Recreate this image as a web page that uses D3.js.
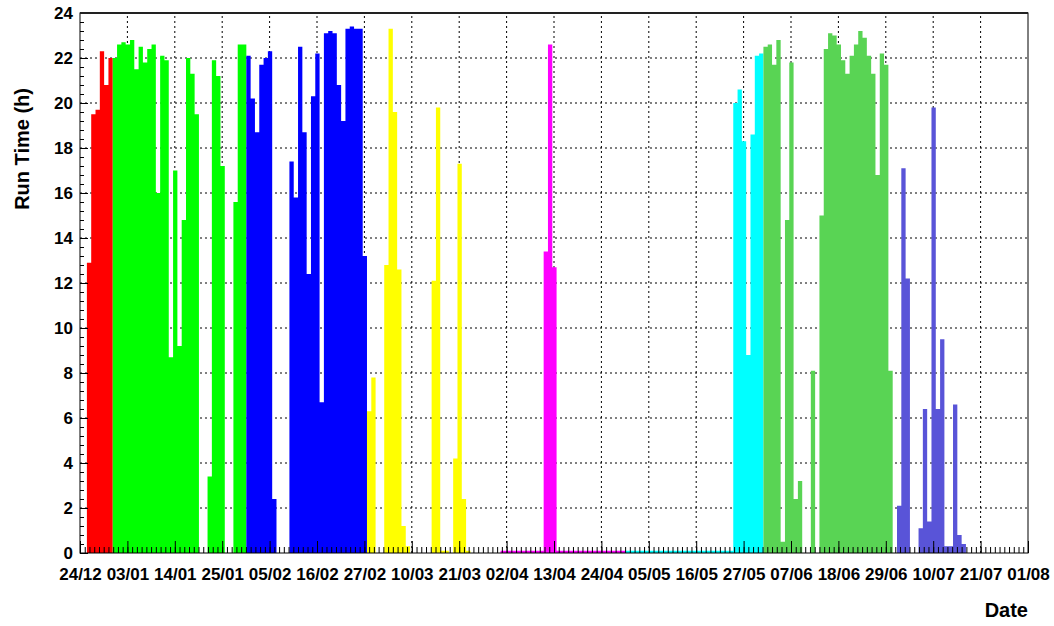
<!DOCTYPE html>
<html>
<head>
<meta charset="utf-8">
<script src="https://cdn.jsdelivr.net/npm/d3@7"></script>
<style>
body { margin: 0; background: #fff; }
text { font-family: "Liberation Sans", Arial, Helvetica, sans-serif; }
</style>
</head>
<body>
<script>
// x tick labels, one every 11 days
const dateLabels = ["24/12","03/01","14/01","25/01","05/02","16/02","27/02","10/03","21/03","02/04",
  "13/04","24/04","05/05","16/05","27/05","07/06","18/06","29/06","10/07","21/07","01/08"];

// first day (bin index) of each run period
const runStart = [1, 7, 38, 66, 97, 126, 158, 189];

// daily run time in hours, one array per period
const run1 = [12.9, 19.5, 19.7, 22.3, 20.8, 22.0];
const run2 = [22.0, 22.6, 22.7, 22.6, 22.8, 21.5, 22.5, 21.8, 22.4, 22.6, 16.0, 22.1, 21.9, 8.7, 17.0, 9.2, 14.8, 22.0, 21.3, 19.5,
  0, 0, 3.4, 21.9, 21.2, 17.2, 0, 0, 15.6, 22.6, 22.6];
const run3 = [22.1, 20.2, 18.7, 21.7, 22.0, 22.3, 2.4, 0, 0, 0,
  17.4, 15.8, 22.5, 18.7, 12.4, 20.3, 22.2, 6.7, 23.1, 23.2, 23.1, 20.8, 19.2, 23.3, 23.4, 23.3, 23.3, 13.2];
const run4 = [6.3, 7.8, 0, 0, 12.8, 23.3, 19.6, 12.6, 1.2, 0.3, 0, 0, 0, 0, 0,
  12.1, 19.8, 0.1, 0.1, 0, 4.2, 17.3, 2.4, 0.1];
const run5 = [0.1, 0.1, 0.1, 0.1, 0.1, 0.1, 0.1, 0.1, 0.1, 0.1, 13.4, 22.6, 12.7,
  0.1, 0.1, 0.1, 0.1, 0.1, 0.1, 0.1, 0.1, 0.1, 0.1, 0.1, 0.1, 0.1, 0.1, 0.1, 0.1];
const run6 = [0.1, 0.1, 0.1, 0.1, 0.1, 0.1, 0.1, 0.1, 0.1, 0.1, 0.1, 0.1, 0.1, 0.1, 0.1, 0.1, 0.1, 0.1, 0.1, 0.1,
  0.1, 0.1, 0.1, 0.1, 0.1, 20.0, 20.6, 18.3, 8.8, 18.6, 22.1, 22.2];
const run7 = [22.5, 22.6, 21.7, 22.8, 0.5, 14.8, 21.8, 2.4, 3.2, 0, 0, 8.1, 0,
  15.0, 22.4, 23.1, 23.0, 22.6, 21.9, 21.3, 22.1, 22.6, 23.2, 22.9, 22.1, 21.3, 16.8, 22.2, 21.7, 8.1];
const run8 = [2.1, 17.1, 12.2, 0, 0, 1.1, 6.4, 1.4, 19.8, 6.4, 9.5, 0.3, 0.3, 6.6, 0.8, 0.4];

const runs = [run1, run2, run3, run4, run5, run6, run7, run8];
const runColors = ["#ff0000", "#00ff00", "#0000ff", "#ffff00", "#ff00ff", "#00ffff", "#59d454", "#5954d8"];

const width = 1054, height = 626;
const margin = { left: 80, right: 1028, top: 13, bottom: 553 };
const binOffset = 0.6;

const x = d3.scaleLinear().domain([0, 220]).range([margin.left, margin.right]);
const y = d3.scaleLinear().domain([0, 24]).range([margin.bottom, margin.top]);

const svg = d3.select("body").append("svg")
  .attr("width", width)
  .attr("height", height);

// dotted grid
const grid = svg.append("g").attr("stroke", "#000").attr("stroke-width", 1).attr("stroke-dasharray", "2,3");
grid.selectAll(".gx").data(d3.range(11, 220, 11)).enter().append("line")
  .attr("x1", d => x(d)).attr("x2", d => x(d))
  .attr("y1", y(0)).attr("y2", y(24));
grid.selectAll(".gy").data(d3.range(2, 24, 2)).enter().append("line")
  .attr("x1", x(0)).attr("x2", x(220))
  .attr("y1", d => y(d)).attr("y2", d => y(d));

// histogram areas, one per period
const area = d3.area()
  .curve(d3.curveStepAfter)
  .x(d => x(d.t))
  .y0(y(0))
  .y1(d => y(d.v));

runs.forEach((vals, r) => {
  const pts = vals.map((v, i) => ({ t: runStart[r] + i + binOffset, v: v }));
  pts.push({ t: runStart[r] + vals.length + binOffset, v: vals[vals.length - 1] });
  svg.append("path")
    .datum(pts)
    .attr("fill", runColors[r])
    .attr("d", area);
});

// axes
const xMinor = d3.axisBottom(x).tickValues(d3.range(0, 220.01, 1.1)).tickFormat("").tickSizeInner(-6).tickSizeOuter(0);
svg.append("g").attr("transform", "translate(0," + margin.bottom + ")").call(xMinor)
  .call(g => g.select(".domain").remove());

const xAxis = d3.axisBottom(x).tickValues(d3.range(0, 221, 11))
  .tickFormat((d, i) => dateLabels[i]).tickSizeInner(-12).tickSizeOuter(0).tickPadding(15);
svg.append("g").attr("id", "x-axis").attr("transform", "translate(0," + margin.bottom + ")").call(xAxis)
  .call(g => g.select(".domain").remove())
  .selectAll("text").attr("font-size", 17).attr("font-weight", "bold").attr("fill", "#000")
  .style("font-family", "'Liberation Sans', Arial, sans-serif");

const yMinor = d3.axisLeft(y).tickValues(d3.range(0, 24.01, 0.4)).tickFormat("").tickSizeInner(-4).tickSizeOuter(0);
svg.append("g").attr("transform", "translate(" + margin.left + ",0)").call(yMinor)
  .call(g => g.select(".domain").remove());

const yAxis = d3.axisLeft(y).tickValues(d3.range(0, 25, 2)).tickSizeInner(-8).tickSizeOuter(0).tickPadding(7);
svg.append("g").attr("id", "y-axis").attr("transform", "translate(" + margin.left + ",0)").call(yAxis)
  .call(g => g.select(".domain").remove())
  .selectAll("text").attr("font-size", 17).attr("font-weight", "bold").attr("fill", "#000")
  .style("font-family", "'Liberation Sans', Arial, sans-serif");

// frame
svg.append("rect")
  .attr("x", margin.left).attr("y", margin.top)
  .attr("width", margin.right - margin.left).attr("height", margin.bottom - margin.top)
  .attr("fill", "none").attr("stroke", "#000").attr("stroke-width", 1);
svg.append("line")
  .attr("x1", margin.left).attr("x2", margin.right).attr("y1", margin.top).attr("y2", margin.top)
  .attr("stroke", "#222").attr("stroke-width", 2);

// titles
svg.append("text")
  .attr("transform", "translate(29,88) rotate(-90)")
  .attr("text-anchor", "end")
  .attr("font-size", 20).attr("font-weight", "bold")
  .text("Run Time (h)");

svg.append("text")
  .attr("x", 1028).attr("y", 617)
  .attr("text-anchor", "end")
  .attr("font-size", 20).attr("font-weight", "bold")
  .text("Date");
</script>
</body>
</html>
